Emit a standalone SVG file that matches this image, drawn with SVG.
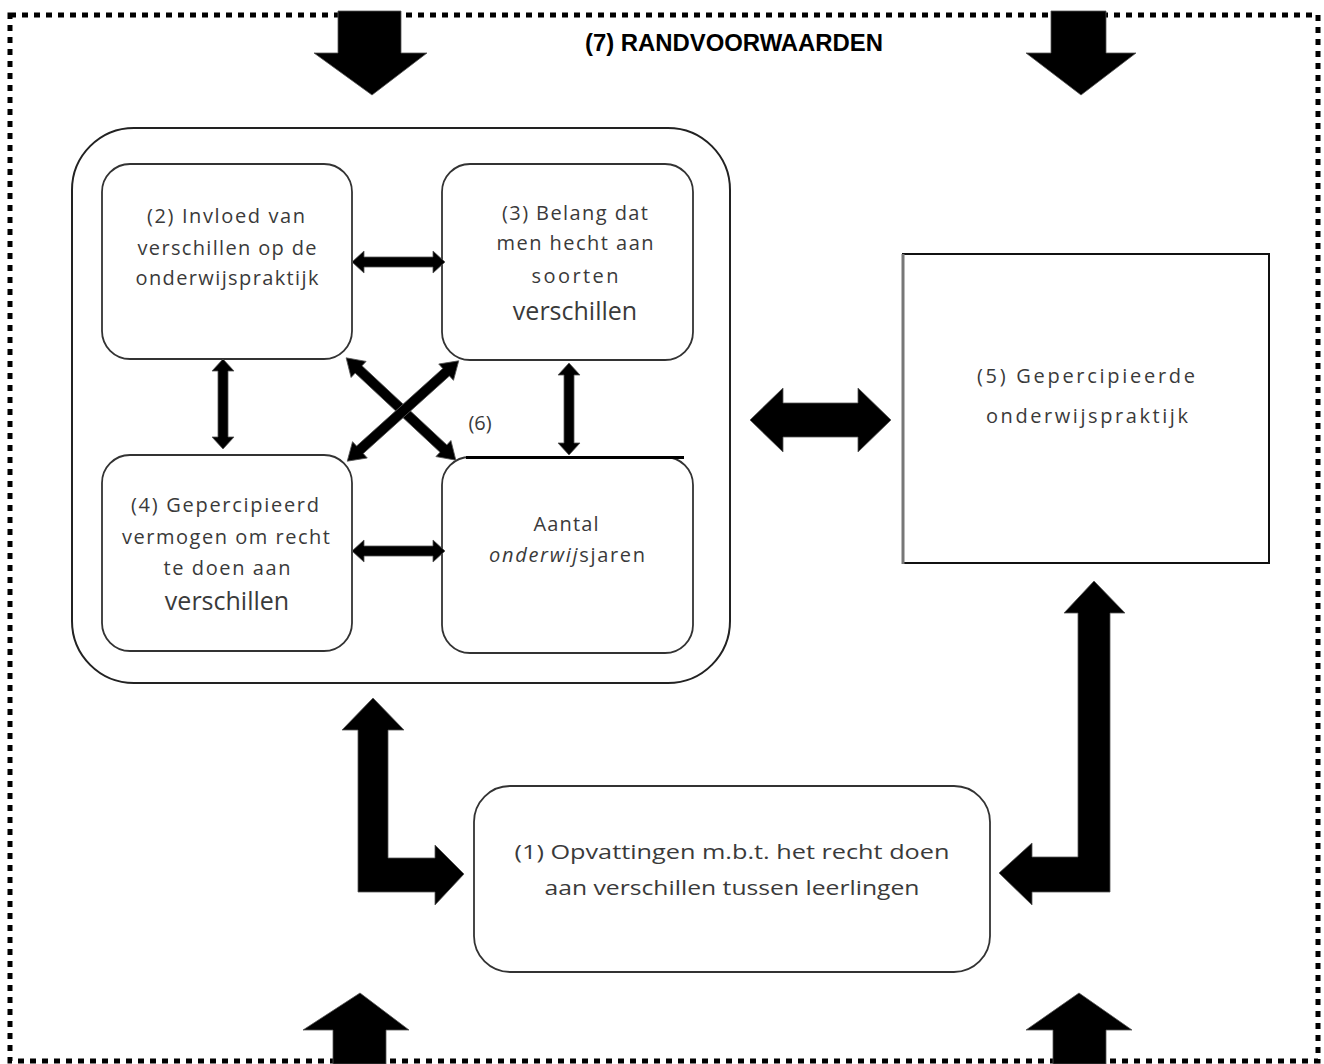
<svg xmlns="http://www.w3.org/2000/svg" width="1324" height="1064" viewBox="0 0 1324 1064">
<style>
.box{fill:#fff;stroke:#333;stroke-width:1.8}
.t{font-family:"Open Sans","Liberation Sans",sans-serif;font-size:20px;fill:#3a3a3a;text-anchor:middle}
.big{font-size:25px}
.arr{fill:#000;stroke:#555;stroke-width:0.8}
</style>
<rect x="0" y="0" width="1324" height="1064" fill="#fff"/>
<g id="border">
<rect x="10" y="15" width="1308" height="1046" fill="none" stroke="#000" stroke-width="5" stroke-dasharray="6 6"/>
<text x="734" y="51" font-family="'Liberation Sans',Arial,sans-serif" font-weight="bold" font-size="24" fill="#000" text-anchor="middle" textLength="298" lengthAdjust="spacingAndGlyphs">(7) RANDVOORWAARDEN</text>
</g>
<g id="container">
<rect x="72" y="128" width="658" height="555" rx="62" fill="none" stroke="#222" stroke-width="2"/>
</g>
<g id="node2">
<rect class="box" x="102" y="164" width="250" height="195" rx="28"/>
<text class="t" x="226" y="223" textLength="158" lengthAdjust="spacing">(2) Invloed van</text>
<text class="t" x="227" y="255" textLength="179" lengthAdjust="spacing">verschillen op de</text>
<text class="t" x="227" y="285" textLength="183" lengthAdjust="spacing">onderwijspraktijk</text>
</g>
<g id="node3">
<rect class="box" x="442" y="164" width="251" height="196" rx="28"/>
<text class="t" x="575" y="220" textLength="146" lengthAdjust="spacing">(3) Belang dat</text>
<text class="t" x="575" y="250" textLength="157" lengthAdjust="spacing">men hecht aan</text>
<text class="t" x="575" y="283" textLength="87" lengthAdjust="spacing">soorten</text>
<text class="t big" x="575" y="320">verschillen</text>
</g>
<g id="node4">
<rect class="box" x="102" y="455" width="250" height="196" rx="28"/>
<text class="t" x="225" y="512" textLength="188" lengthAdjust="spacing">(4) Gepercipieerd</text>
<text class="t" x="226" y="544" textLength="208" lengthAdjust="spacing">vermogen om recht</text>
<text class="t" x="227" y="575" textLength="127" lengthAdjust="spacing">te doen aan</text>
<text class="t big" x="227" y="610">verschillen</text>
</g>
<g id="node6">
<rect class="box" x="442" y="457" width="251" height="196" rx="28"/>
<line x1="466" y1="457.5" x2="684" y2="457.5" stroke="#000" stroke-width="3"/>
<text class="t" x="566" y="531" textLength="65" lengthAdjust="spacing">Aantal</text>
<text class="t" x="567" y="562" textLength="156" lengthAdjust="spacing"><tspan font-style="italic">onderwij</tspan>sjaren</text>
<text class="t" x="480" y="430" font-size="15">(6)</text>
</g>
<g id="node5">
<rect x="903" y="254" width="366" height="309" fill="#fff" stroke="#111" stroke-width="2"/>
<line x1="903" y1="254" x2="903" y2="564" stroke="#777" stroke-width="3"/>
<text class="t" x="1086" y="383" font-size="22" textLength="218" lengthAdjust="spacing">(5) Gepercipieerde</text>
<text class="t" x="1087" y="423" font-size="22" textLength="202" lengthAdjust="spacing">onderwijspraktijk</text>
</g>
<g id="node1">
<rect class="box" x="474" y="786" width="516" height="186" rx="36"/>
<text class="t" x="732" y="859" font-size="25" textLength="435" lengthAdjust="spacingAndGlyphs">(1) Opvattingen m.b.t. het recht doen</text>
<text class="t" x="732" y="895" font-size="25" textLength="375" lengthAdjust="spacingAndGlyphs">aan verschillen tussen leerlingen</text>
</g>
<g id="connectors">
<path class="arr" d="M352,262 L364,251 L364,257 L433,257 L433,251 L445,262 L433,273 L433,267 L364,267 L364,273 Z"/>
<path class="arr" d="M352,551 L364,540 L364,546 L433,546 L433,540 L445,551 L433,562 L433,556 L364,556 L364,562 Z"/>
<path class="arr" d="M223,359 L234,371 L228,371 L228,437 L234,437 L223,449 L212,437 L218,437 L218,371 L212,371 Z"/>
<path class="arr" d="M569,363 L580,375 L574,375 L574,443 L580,443 L569,455 L558,443 L564,443 L564,375 L558,375 Z"/>
<path class="arr" transform="translate(401 409) rotate(43)" d="M-75,0 L-58,-11 L-58,-5 L58,-5 L58,-11 L75,0 L58,11 L58,5 L-58,5 L-58,11 Z"/>
<path class="arr" transform="translate(403 411) rotate(-42)" d="M-75,0 L-58,-11 L-58,-5 L58,-5 L58,-11 L75,0 L58,11 L58,5 L-58,5 L-58,11 Z"/>
<path class="arr" d="M750,420 L783,388 L783,403 L858,403 L858,388 L891,420 L858,452 L858,437 L783,437 L783,452 Z"/>
<path class="arr" d="M373,698 L404,730 L388,730 L388,858 L435,858 L435,845 L464,874 L435,905 L435,892 L358,892 L358,730 L342,730 Z"/>
<path class="arr" d="M1094,581 L1125,613 L1110,613 L1110,892 L1032,892 L1032,905 L999,873 L1032,843 L1032,857 L1078,857 L1078,613 L1064,613 Z"/>
<path class="arr" d="M338,11 L401,11 L401,53 L427,53 L372,95 L314,53 L338,53 Z"/>
<path class="arr" d="M1051,11 L1106,11 L1106,53 L1136,53 L1081,95 L1026,53 L1051,53 Z"/>
<path class="arr" d="M360,993 L409,1030 L386,1030 L386,1064 L333,1064 L333,1030 L303,1030 Z"/>
<path class="arr" d="M1079,993 L1132,1030 L1106,1030 L1106,1064 L1053,1064 L1053,1030 L1026,1030 Z"/>
</g>
</svg>
